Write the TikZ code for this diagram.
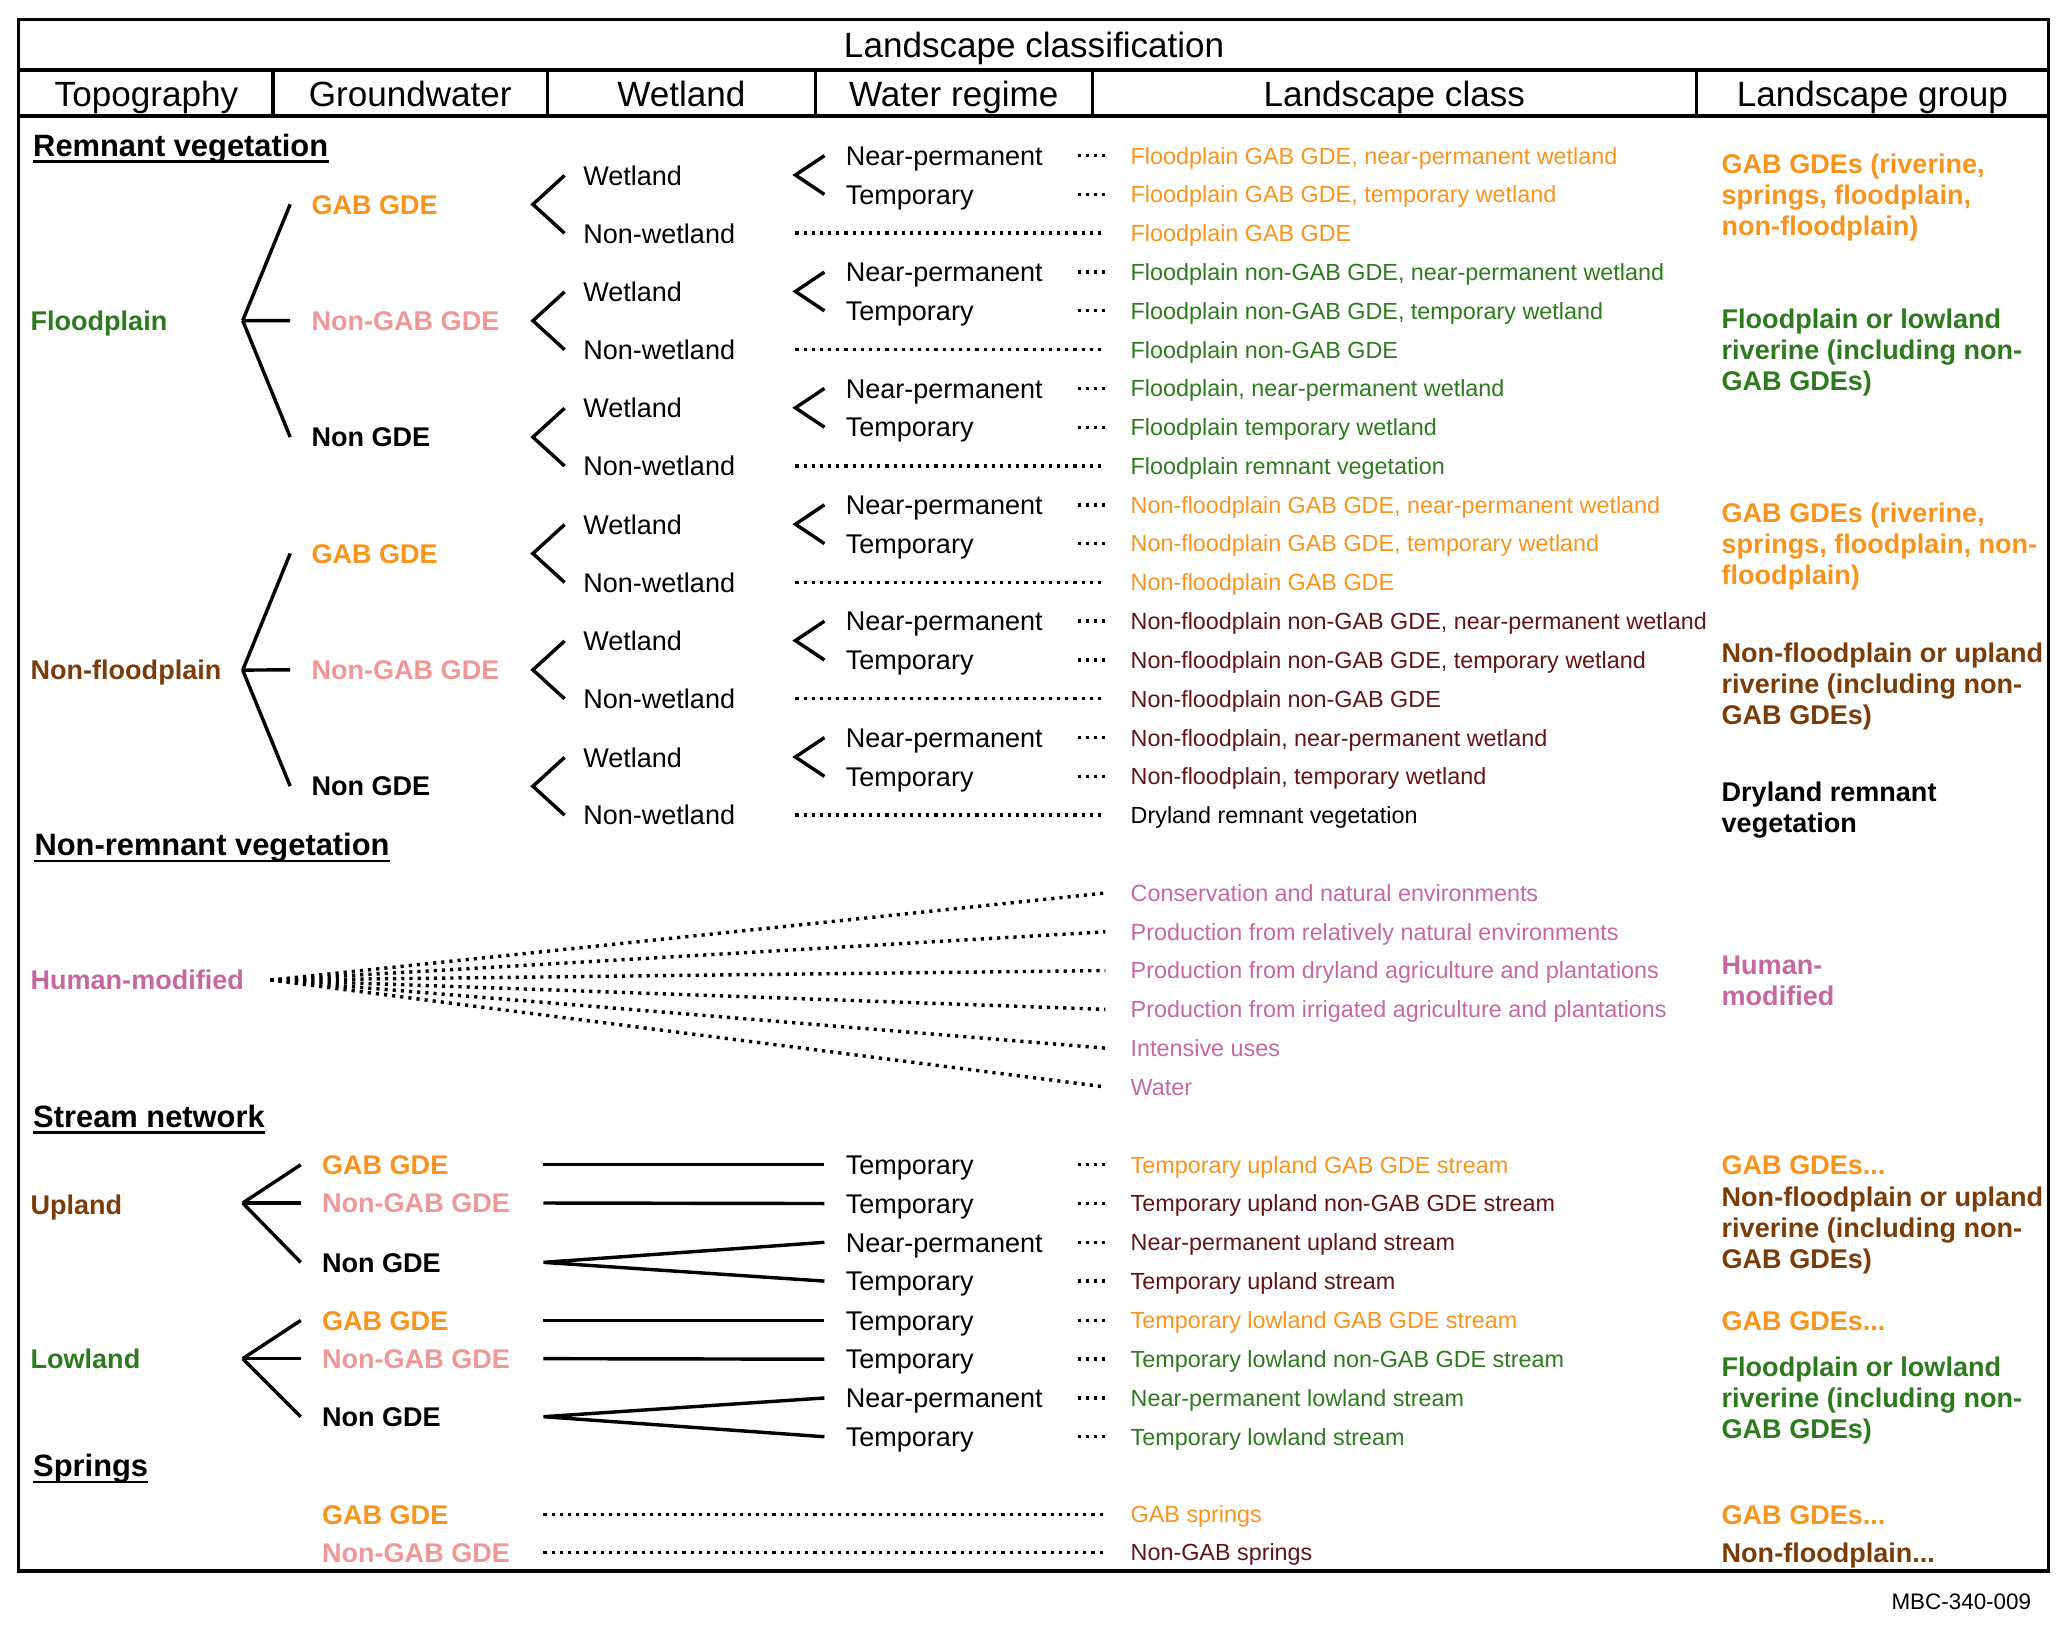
\documentclass[tikz,border=0pt]{standalone}
\usepackage{fontspec}
\setmainfont{Liberation Sans}
\definecolor{cOr}{RGB}{247,148,30}
\definecolor{cSal}{RGB}{238,152,152}
\definecolor{cGr}{RGB}{45,122,30}
\definecolor{cBr}{RGB}{122,60,8}
\definecolor{cMr}{RGB}{96,20,20}
\definecolor{cPk}{RGB}{198,104,160}
\begin{document}
\begin{tikzpicture}[x=1pt,y=-1pt,
  body/.style={anchor=west,inner sep=0pt,text height=14.8pt,text depth=0pt,font=\fontsize{20.5}{24}\selectfont},
  bld/.style={anchor=west,inner sep=0pt,text height=14.8pt,text depth=0pt,font=\bfseries\fontsize{20.5}{24}\selectfont},
  cls/.style={anchor=west,inner sep=0pt,text height=12.7pt,text depth=0pt,font=\fontsize{17.7}{21}\selectfont},
  hdr/.style={inner sep=0pt,text height=19.1pt,text depth=0pt,font=\fontsize{26.6}{30}\selectfont},
  sec/.style={anchor=west,inner sep=0pt,text height=16.8pt,text depth=0pt,font=\bfseries\fontsize{23.4}{28}\selectfont},
  ln/.style={line width=2.6pt},
  dt/.style={line width=2.6pt,dash pattern=on 2.4pt off 3.8pt},
  frame/.style={line width=2.5pt},
  uline/.style={line width=2pt}]
\useasboundingbox (0,0) rectangle (1567,1233.5);
% frame
\draw[frame] (14,15) rectangle (1553,1191);
\draw[frame] (14,53) -- (1553,53);
\draw[frame] (14,88) -- (1553,88);
\foreach \xx in {207,415,618,828,1286} \draw[frame] (\xx,53) -- (\xx,88);
\node[hdr] (title) at (784,34) {Landscape classification};
\node[hdr] (hTop) at (111,71) {Topography};
\node[hdr] (hGw) at (311,71) {Groundwater};
\node[hdr] (hWl) at (516.5,71) {Wetland};
\node[hdr] (hWr) at (723,71) {Water regime};
\node[hdr] (hLc) at (1057,71) {Landscape class};
\node[hdr] (hLg) at (1419.5,71) {Landscape group};

% ---------------- Remnant vegetation
\node[sec] (sRem) at (25,110) {Remnant vegetation};
\draw[uline] ([yshift=-4pt]sRem.south west) -- ([yshift=-4pt]sRem.south east);

\node[bld,cGr] (tFp) at (23,243) {Floodplain};
\node[bld,cBr] (tNfp) at (23,508) {Non-floodplain};
\coordinate (vFp) at (184,243);
\coordinate (vNfp) at (184,508);

\node[bld,cOr] (g0) at (236,154.9) {GAB GDE};
\node[bld,cSal] (g1) at (236,243.1) {Non-GAB GDE};
\node[bld] (g2) at (236,331.3) {Non GDE};
\node[bld,cOr] (g3) at (236,419.6) {GAB GDE};
\node[bld,cSal] (g4) at (236,507.8) {Non-GAB GDE};
\node[bld] (g5) at (236,596.0) {Non GDE};
\foreach \k in {0,1,2} \draw[ln] (vFp) -- ([xshift=-16pt]g\k.west);
\foreach \k in {3,4,5} \draw[ln] (vNfp) -- ([xshift=-16pt]g\k.west);

\foreach \k in {0,...,5}{
  \pgfmathsetmacro\yN{118+88.235*\k}
  \pgfmathsetmacro\yT{\yN+29.41}
  \pgfmathsetmacro\yW{\yN+15}
  \pgfmathsetmacro\yNW{\yN+58.82}
  \pgfmathsetmacro\yV{(\yW+\yNW)/2}
  \pgfmathsetmacro\yR{\yN+14.7}
  \node[body] (wl\k) at (442,\yW) {Wetland};
  \node[body] (nw\k) at (442,\yNW) {Non-wetland};
  \node[body] (np\k) at (641,\yN) {Near-permanent};
  \node[body] (tp\k) at (641,\yT) {Temporary};
  \coordinate (wv\k) at (404,\yV);
  \coordinate (rv\k) at (603,\yR);
  \draw[ln] ([xshift=-14pt]wl\k.west) -- (wv\k) -- ([xshift=-14pt]nw\k.west);
  \draw[ln] ([xshift=-16pt]np\k.west) -- (rv\k) -- ([xshift=-16pt]tp\k.west);
}

\node[cls,cOr] (c0) at (857,118.0) {Floodplain GAB GDE, near-permanent wetland};
\node[cls,cOr] (c1) at (857,147.4) {Floodplain GAB GDE, temporary wetland};
\node[cls,cOr] (c2) at (857,176.8) {Floodplain GAB GDE};
\node[cls,cGr] (c3) at (857,206.2) {Floodplain non-GAB GDE, near-permanent wetland};
\node[cls,cGr] (c4) at (857,235.6) {Floodplain non-GAB GDE, temporary wetland};
\node[cls,cGr] (c5) at (857,265.1) {Floodplain non-GAB GDE};
\node[cls,cGr] (c6) at (857,294.5) {Floodplain, near-permanent wetland};
\node[cls,cGr] (c7) at (857,323.9) {Floodplain temporary wetland};
\node[cls,cGr] (c8) at (857,353.3) {Floodplain remnant vegetation};
\node[cls,cOr] (c9) at (857,382.7) {Non-floodplain GAB GDE, near-permanent wetland};
\node[cls,cOr] (c10) at (857,412.1) {Non-floodplain GAB GDE, temporary wetland};
\node[cls,cOr] (c11) at (857,441.5) {Non-floodplain GAB GDE};
\node[cls,cMr] (c12) at (857,470.9) {Non-floodplain non-GAB GDE, near-permanent wetland};
\node[cls,cMr] (c13) at (857,500.3) {Non-floodplain non-GAB GDE, temporary wetland};
\node[cls,cMr] (c14) at (857,529.7) {Non-floodplain non-GAB GDE};
\node[cls,cMr] (c15) at (857,559.2) {Non-floodplain, near-permanent wetland};
\node[cls,cMr] (c16) at (857,588.6) {Non-floodplain, temporary wetland};
\node[cls] (c17) at (857,618.0) {Dryland remnant vegetation};
\foreach \r in {0,1,3,4,6,7,9,10,12,13,15,16}
  \draw[dt] ([xshift=-40pt]c\r.west) -- ([xshift=-19pt]c\r.west);
\foreach \r in {2,5,8,11,14,17}
  \draw[dt] ([xshift=-254pt]c\r.west) -- ([xshift=-19pt]c\r.west);

% groups (remnant)
\node[bld,cOr] (ga1) at (1305,124) {GAB GDEs (riverine,};
\node[bld,cOr] (ga2) at (1305,147.5) {springs, floodplain,};
\node[bld,cOr] (ga3) at (1305,171) {non-floodplain)};
\node[bld,cGr] (gb1) at (1305,242) {Floodplain or lowland};
\node[bld,cGr] (gb2) at (1305,265.5) {riverine (including non-};
\node[bld,cGr] (gb3) at (1305,289) {GAB GDEs)};
\node[bld,cOr] (gc1) at (1305,389) {GAB GDEs (riverine,};
\node[bld,cOr] (gc2) at (1305,412.5) {springs, floodplain, non-};
\node[bld,cOr] (gc3) at (1305,436) {floodplain)};
\node[bld,cBr] (gd1) at (1305,495) {Non-floodplain or upland};
\node[bld,cBr] (gd2) at (1305,518.5) {riverine (including non-};
\node[bld,cBr] (gd3) at (1305,542) {GAB GDEs)};
\node[bld] (ge1) at (1305,600) {Dryland remnant};
\node[bld] (ge2) at (1305,623.5) {vegetation};

% ---------------- Non-remnant vegetation
\node[sec] (sNon) at (26,640) {Non-remnant vegetation};
\draw[uline] ([yshift=-4pt]sNon.south west) -- ([yshift=-4pt]sNon.south east);
\node[bld,cPk] (tHm) at (23,743) {Human-modified};
\coordinate (vHm) at (205,743);
\node[cls,cPk] (h0) at (857,677.0) {Conservation and natural environments};
\node[cls,cPk] (h1) at (857,706.4) {Production from relatively natural environments};
\node[cls,cPk] (h2) at (857,735.8) {Production from dryland agriculture and plantations};
\node[cls,cPk] (h3) at (857,765.2) {Production from irrigated agriculture and plantations};
\node[cls,cPk] (h4) at (857,794.6) {Intensive uses};
\node[cls,cPk] (h5) at (857,824.0) {Water};
\foreach \r in {0,...,5} \draw[dt] (vHm) -- ([xshift=-19pt]h\r.west);
\node[bld,cPk] (gf1) at (1305,731) {Human-};
\node[bld,cPk] (gf2) at (1305,754.5) {modified};

% ---------------- Stream network
\node[sec] (sStr) at (25,846) {Stream network};
\draw[uline] ([yshift=-4pt]sStr.south west) -- ([yshift=-4pt]sStr.south east);
\node[bld,cBr] (tUp) at (23,913) {Upland};
\node[bld,cGr] (tLo) at (23,1030) {Lowland};
\coordinate (vUp) at (184,912);
\coordinate (vLo) at (184,1030);
\node[bld,cOr] (ug0) at (244,883) {GAB GDE};
\node[bld,cSal] (ug1) at (244,912) {Non-GAB GDE};
\node[bld] (ug2) at (244,957) {Non GDE};
\node[bld,cOr] (lg0) at (244,1001) {GAB GDE};
\node[bld,cSal] (lg1) at (244,1030) {Non-GAB GDE};
\node[bld] (lg2) at (244,1074) {Non GDE};
\foreach \k in {0,1,2} {
  \draw[ln] (vUp) -- ([xshift=-16pt]ug\k.west);
  \draw[ln] (vLo) -- ([xshift=-16pt]lg\k.west);
}
\node[body] (uw0) at (641,883) {Temporary};
\node[body] (uw1) at (641,912.4) {Temporary};
\node[body] (uw2) at (641,941.8) {Near-permanent};
\node[body] (uw3) at (641,971.2) {Temporary};
\node[body] (lw0) at (641,1001) {Temporary};
\node[body] (lw1) at (641,1030.4) {Temporary};
\node[body] (lw2) at (641,1059.8) {Near-permanent};
\node[body] (lw3) at (641,1089.2) {Temporary};
\draw[ln] ([xshift=168pt]ug0.west) -- ([xshift=-16pt]uw0.west);
\draw[ln] ([xshift=168pt]ug1.west) -- ([xshift=-16pt]uw1.west);
\draw[ln] ([xshift=-16pt]uw2.west) -- ([xshift=168pt]ug2.west) -- ([xshift=-16pt]uw3.west);
\draw[ln] ([xshift=168pt]lg0.west) -- ([xshift=-16pt]lw0.west);
\draw[ln] ([xshift=168pt]lg1.west) -- ([xshift=-16pt]lw1.west);
\draw[ln] ([xshift=-16pt]lw2.west) -- ([xshift=168pt]lg2.west) -- ([xshift=-16pt]lw3.west);

\node[cls,cOr] (s0) at (857,883) {Temporary upland GAB GDE stream};
\node[cls,cMr] (s1) at (857,912.4) {Temporary upland non-GAB GDE stream};
\node[cls,cMr] (s2) at (857,941.8) {Near-permanent upland stream};
\node[cls,cMr] (s3) at (857,971.2) {Temporary upland stream};
\node[cls,cOr] (s4) at (857,1001) {Temporary lowland GAB GDE stream};
\node[cls,cGr] (s5) at (857,1030.4) {Temporary lowland non-GAB GDE stream};
\node[cls,cGr] (s6) at (857,1059.8) {Near-permanent lowland stream};
\node[cls,cGr] (s7) at (857,1089.2) {Temporary lowland stream};
\foreach \r in {0,...,7}
  \draw[dt] ([xshift=-40pt]s\r.west) -- ([xshift=-19pt]s\r.west);

\node[bld,cOr] (gg0) at (1305,883) {GAB GDEs...};
\node[bld,cBr] (gg1) at (1305,907) {Non-floodplain or upland};
\node[bld,cBr] (gg2) at (1305,930.5) {riverine (including non-};
\node[bld,cBr] (gg3) at (1305,954) {GAB GDEs)};
\node[bld,cOr] (gh0) at (1305,1001) {GAB GDEs...};
\node[bld,cGr] (gh1) at (1305,1036) {Floodplain or lowland};
\node[bld,cGr] (gh2) at (1305,1059.5) {riverine (including non-};
\node[bld,cGr] (gh3) at (1305,1083) {GAB GDEs)};

% ---------------- Springs
\node[sec] (sSpr) at (25,1111) {Springs};
\draw[uline] ([yshift=-4pt]sSpr.south west) -- ([yshift=-4pt]sSpr.south east);
\node[bld,cOr] (sg0) at (244,1148) {GAB GDE};
\node[bld,cSal] (sg1) at (244,1177) {Non-GAB GDE};
\node[cls,cOr] (sc0) at (857,1148) {GAB springs};
\node[cls,cMr] (sc1) at (857,1177) {Non-GAB springs};
\draw[dt] ([xshift=168pt]sg0.west) -- ([xshift=-19pt]sc0.west);
\draw[dt] ([xshift=168pt]sg1.west) -- ([xshift=-19pt]sc1.west);
\node[bld,cOr] (gi0) at (1305,1148) {GAB GDEs...};
\node[bld,cBr] (gi1) at (1305,1177) {Non-floodplain...};

\node[anchor=east,inner sep=0pt,text height=12.3pt,text depth=0pt,font=\fontsize{17}{20}\selectfont] (mbc) at (1540,1214) {MBC-340-009};
\end{tikzpicture}
\end{document}
